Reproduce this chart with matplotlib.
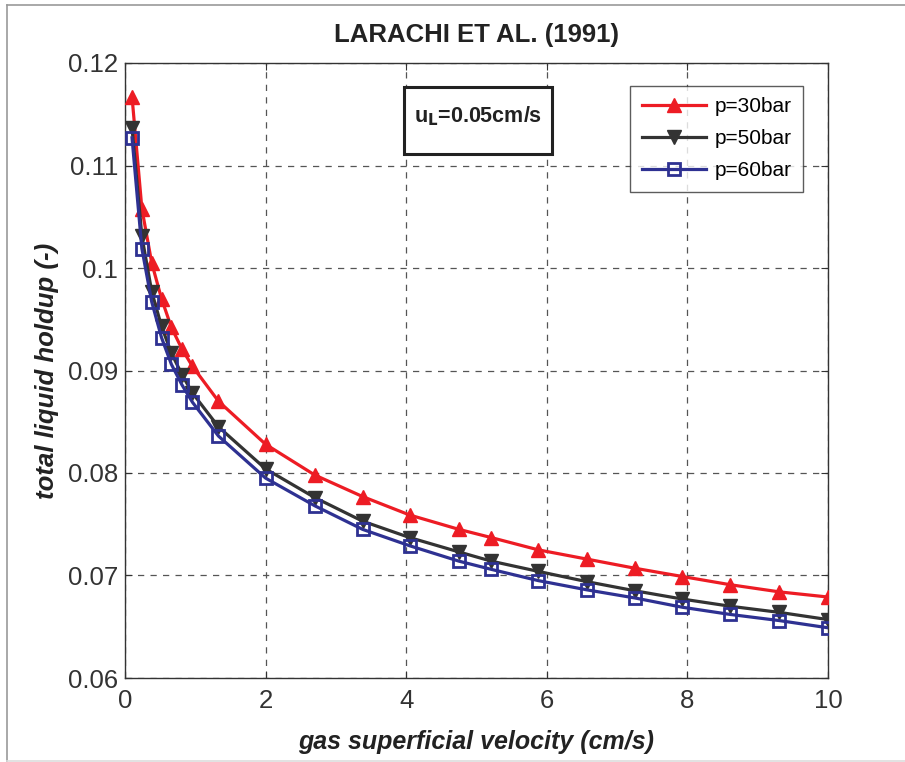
import matplotlib
matplotlib.use("Agg")
import matplotlib.pyplot as plt
from matplotlib.patches import Rectangle
from matplotlib.lines import Line2D

plt.rcParams['font.family'] = ['Liberation Sans', 'DejaVu Sans']

x = [0.1, 0.24, 0.38, 0.52, 0.66, 0.81, 0.96, 1.33, 2.0, 2.7, 3.38, 4.05,
     4.75, 5.21, 5.88, 6.57, 7.26, 7.93, 8.61, 9.31, 10.0]
p30 = [0.1167, 0.1058, 0.1005, 0.0970, 0.0942, 0.0921, 0.0904, 0.0870, 0.0828,
       0.0798, 0.0777, 0.0759, 0.0745, 0.0737, 0.0725, 0.0716, 0.0707, 0.0699,
       0.0691, 0.0684, 0.0679]
p50 = [0.1137, 0.1031, 0.0977, 0.0943, 0.0917, 0.0896, 0.0878, 0.0845, 0.0804,
       0.0776, 0.0753, 0.0737, 0.0723, 0.0714, 0.0704, 0.0694, 0.0685, 0.0677,
       0.0670, 0.0664, 0.0657]
p60 = [0.1127, 0.1019, 0.0967, 0.0932, 0.0906, 0.0886, 0.0869, 0.0836, 0.0795,
       0.0768, 0.0745, 0.0729, 0.0714, 0.0706, 0.0695, 0.0686, 0.0678, 0.0669,
       0.0662, 0.0656, 0.0649]
labels = ["p=30bar", "p=50bar", "p=60bar"]
xticks = [0, 2, 4, 6, 8, 10]
yticks = [0.06, 0.07, 0.08, 0.09, 0.1, 0.11, 0.12]
yticklabels = ["0.06", "0.07", "0.08", "0.09", "0.1", "0.11", "0.12"]

W, H = 905, 762
fig = plt.figure(figsize=(W/100, H/100), dpi=100)
ax = fig.add_axes([125/W, 1-678/H, (828-125)/W, (678-63)/H])

red = '#ed1c24'
blk = '#333333'
blu = '#2e3192'
ax.plot(x, p30, color=red, lw=2.3, marker='^', ms=10, mfc=red, mec=red, label=labels[0], zorder=3)
ax.plot(x, p50, color=blk, lw=2.3, marker='v', ms=10, mfc=blk, mec=blk, label=labels[1], zorder=4)
ax.plot(x, p60, color=blu, lw=2.3, marker='s', ms=8, mfc='none', mec=blu, mew=2, label=labels[2], zorder=5)

ax.set_xlim(0, 10)
ax.set_ylim(0.06, 0.12)
ax.set_xticks(xticks)
ax.set_yticks(yticks)
ax.set_yticklabels(yticklabels)
ax.tick_params(direction='in', top=True, right=True, labelsize=18.5, length=5,
               colors='#333333', labelcolor='#333333')
ax.tick_params(axis='x', pad=8)
ax.tick_params(axis='y', pad=5)
ax.grid(True, ls=(0, (5, 5)), color='#555555', lw=0.9)
for s in ax.spines.values():
    s.set_color('#333333')
    s.set_linewidth(1.0)

fig.text(0.5*(333+620)/W, 1-35/H, "LARACHI ET AL. (1991)", fontsize=18.5, fontweight='bold',
         color='#222222', ha='center', va='center')
ax.set_xlabel("gas superficial velocity (cm/s)", fontsize=18, fontweight='bold', style='italic',
              labelpad=12, color='#222222')
ax.set_ylabel("total liquid holdup (-)", fontsize=18.5, fontweight='bold', style='italic',
              labelpad=6, color='#222222')

leg = ax.legend(loc='upper right', bbox_to_anchor=(803/W, 1-86/H), bbox_transform=fig.transFigure,
                fontsize=15, frameon=True, fancybox=False, handlelength=3.1, borderpad=0.55,
                labelspacing=0.62, handletextpad=0.4, borderaxespad=0)
leg.get_frame().set_edgecolor('#333333')
leg.get_frame().set_linewidth(1.0)
leg.set_zorder(20)

# annotation box
fig.add_artist(Rectangle((404/W, 1-154/H), (552-404)/W, (154-87)/H, transform=fig.transFigure,
                         fc='white', ec='#222222', lw=2.2, zorder=10))
fig.text((404+552)/2/W, 1-116/H, r"u$_\mathbf{L}$=0.05cm/s", ha='center', va='center',
         fontsize=15.5, fontweight='bold', color='#222222', zorder=11)

# outer frame
fig.add_artist(Line2D([7/W, 7/W], [0, 1-5/H], transform=fig.transFigure, color='#999999', lw=1.2))
fig.add_artist(Line2D([7/W, 1], [1-5/H, 1-5/H], transform=fig.transFigure, color='#999999', lw=1.2))
fig.add_artist(Line2D([7/W, 1], [1-761/H, 1-761/H], transform=fig.transFigure, color='#dddddd', lw=1.2))

fig.savefig("out.png", dpi=100)
